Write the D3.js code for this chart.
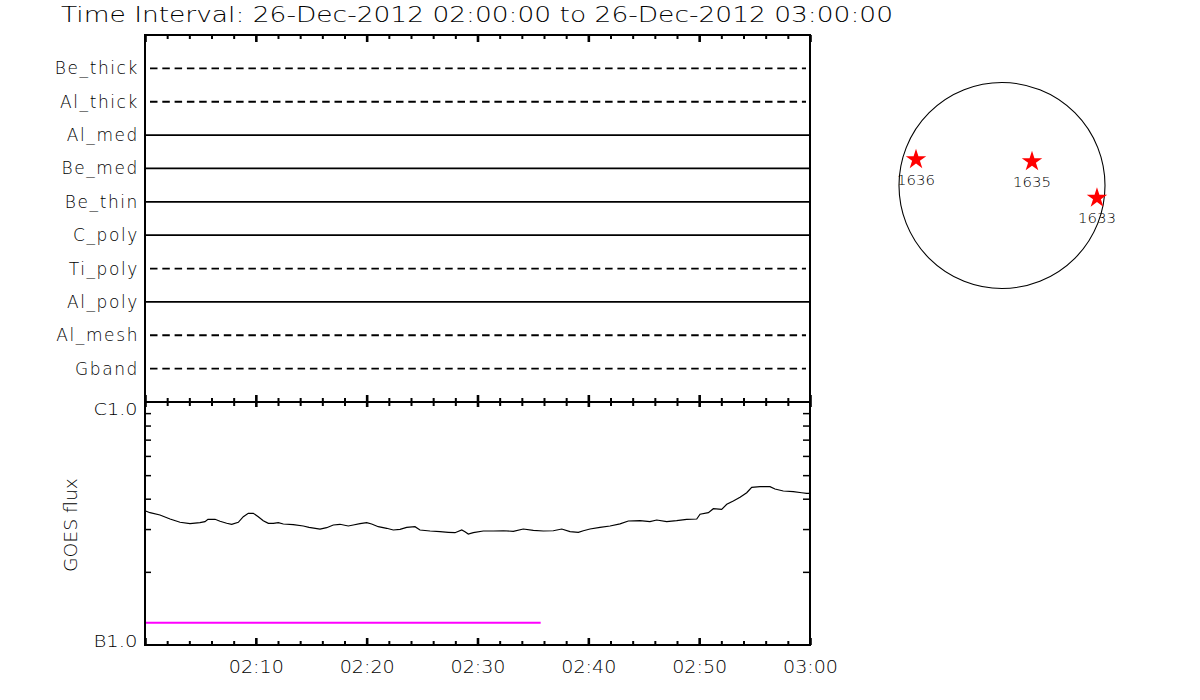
<!DOCTYPE html>
<html><head><meta charset="utf-8">
<script src="https://cdn.jsdelivr.net/npm/d3@7"></script>
<style>
body{margin:0;background:#fff}
text{font-family:"DejaVu Sans","Liberation Sans",sans-serif;font-weight:200;fill:#000}
</style>
</head><body>
<svg id="c" width="1200" height="700"></svg>
<script>
// ---------- data ----------
const titleText = "Time Interval: 26-Dec-2012 02:00:00 to 26-Dec-2012 03:00:00";
const channels = ["Be_thick","Al_thick","Al_med","Be_med","Be_thin","C_poly","Ti_poly","Al_poly","Al_mesh","Gband"];
const channelDashed = [true,true,false,false,false,false,true,false,true,true];
const timeTickLabels = ["02:10","02:20","02:30","02:40","02:50","03:00"];
const timeTickMinutes = [10,20,30,40,50,60];
const minorTickMinutes = [2,4,6,8,12,14,16,18,22,24,26,28,32,34,36,38,42,44,46,48,52,54,56,58];
const yTickLabels = ["B1.0","C1.0"];
const yTickValues = [1e-7,1e-6];
const yMinorValues = [2e-7,3e-7,4e-7,5e-7,6e-7,7e-7,8e-7,9e-7];
const goesMinutes = [0,0.45,1.35,2.26,3.16,4.06,4.96,5.41,5.68,6.32,6.77,7.37,7.82,8.42,8.87,9.32,9.77,10.22,10.67,11.13,11.58,12.03,12.48,13.38,14.28,14.8,15.79,16.39,16.99,17.59,18.34,18.79,19.40,20.00,20.45,21.05,21.81,22.40,23.01,23.61,24.36,24.81,25.72,26.62,27.37,27.97,28.58,28.87,29.17,29.62,30.52,31.43,32.33,33.23,34.13,35.04,35.94,36.84,37.60,38.35,39.10,39.55,40.15,41.05,41.96,42.86,43.61,44.66,45.56,46.17,47.07,47.97,48.88,49.78,50.08,50.83,51.28,52.03,52.49,53.08,53.69,54.29,54.74,55.49,56.39,56.84,57.59,58.50,59.25,59.70,60];
// GOES flux in units of 1e-7 W/m^2
const goesFluxB = [3.570,3.503,3.428,3.300,3.199,3.157,3.187,3.217,3.291,3.291,3.229,3.169,3.139,3.199,3.373,3.483,3.483,3.373,3.247,3.169,3.169,3.187,3.148,3.127,3.088,3.050,3.001,3.039,3.118,3.139,3.088,3.118,3.157,3.187,3.148,3.068,3.022,2.973,2.992,3.050,3.068,2.973,2.945,2.926,2.909,2.898,2.973,2.926,2.862,2.898,2.945,2.945,2.953,2.937,3.001,2.965,2.945,2.953,3.001,2.926,2.909,2.953,3.001,3.050,3.088,3.150,3.238,3.247,3.217,3.269,3.217,3.247,3.291,3.300,3.451,3.503,3.638,3.617,3.793,3.913,4.053,4.233,4.457,4.482,4.482,4.385,4.302,4.274,4.233,4.210,4.210];
const limitMinutes = [0,35.7];
const limitFluxB = [1.235,1.235];
const regions = ["1636","1635","1633"];
const regionXarc = [-814,284,899];
const regionYarc = [246,227,-118];

// ---------- layout ----------
const svg = d3.select("#c");
const L = 145, R = 810, T1 = 35, B1 = 402, B2 = 645;
const t0 = Date.UTC(2012,11,26,2,0,0);
const toDate = m => new Date(t0 + m*60000);
const x = d3.scaleUtc().domain([toDate(0), toDate(60)]).range([L, R]);
const yRow = d3.scalePoint().domain(channels).range([T1, B1]).padding(1);
const y = d3.scaleLog().domain([1e-7,1e-6]).range([B2, B1]);

svg.append("rect").attr("width",1200).attr("height",700).attr("fill","#fff");

// title
svg.append("text").attr("x",61).attr("y",22).attr("font-size",21)
  .attr("textLength",832).attr("lengthAdjust","spacingAndGlyphs").text(titleText);

// ---------- top panel rows ----------
const rows = svg.append("g");
channels.forEach((c,i)=>{
  const yy = yRow(c);
  const ln = rows.append("line").attr("x1",L).attr("x2",channelDashed[i]? R-4 : R)
    .attr("y1",yy).attr("y2",yy).attr("stroke","#000").attr("stroke-width",1.8);
  if(channelDashed[i]) ln.attr("stroke-dasharray","7.5,4.8").attr("stroke-dashoffset",7.3);
  rows.append("text").attr("x",139).attr("y",yy+6).attr("font-size",17)
    .attr("text-anchor","end").attr("letter-spacing",1.6).text(c);
});

// ---------- axes tick helpers ----------
function timeTicks(gen, ty, size, vals, sw){
  const g = svg.append("g").attr("transform",`translate(0,${ty})`)
    .call(gen(x).tickValues(vals.map(toDate)).tickSize(size).tickFormat(""));
  g.select(".domain").remove();
  g.selectAll("line").attr("stroke","#000").attr("stroke-width",sw);
}
timeTicks(d3.axisBottom, T1, 4, minorTickMinutes, 2);
timeTicks(d3.axisBottom, T1, 7, [0,...timeTickMinutes], 2.6);
timeTicks(d3.axisTop, B1, 4, minorTickMinutes, 2);
timeTicks(d3.axisTop, B1, 7, [0,...timeTickMinutes], 2.6);
timeTicks(d3.axisBottom, B1, 4, minorTickMinutes, 2);
timeTicks(d3.axisBottom, B1, 5, [0,...timeTickMinutes], 2.6);
timeTicks(d3.axisTop, B2, 4, minorTickMinutes, 2);
timeTicks(d3.axisTop, B2, 7, [0,...timeTickMinutes], 2.6);

// x labels
const xl = svg.append("g").attr("transform",`translate(0,${B2})`)
  .call(d3.axisBottom(x).tickValues(timeTickMinutes.map(toDate)).tickSize(0).tickPadding(0)
        .tickFormat((d,i)=>timeTickLabels[i]));
xl.select(".domain").remove();
xl.selectAll("text").attr("y",28).attr("dy",null).attr("font-size",18)
  .attr("textLength",55).attr("lengthAdjust","spacingAndGlyphs")
  .style("font-family",'"DejaVu Sans",sans-serif').style("font-weight",200);

// y minor ticks lower panel
const yl = svg.append("g").attr("transform",`translate(${L},0)`)
  .call(d3.axisRight(y).tickValues(yMinorValues).tickSize(6).tickFormat(""));
yl.select(".domain").remove();
yl.selectAll("line").attr("stroke","#000").attr("stroke-width",1.5);
const yr = svg.append("g").attr("transform",`translate(${R},0)`)
  .call(d3.axisLeft(y).tickValues(yMinorValues).tickSize(7).tickFormat(""));
yr.select(".domain").remove();
yr.selectAll("line").attr("stroke","#000").attr("stroke-width",1.5);

// y labels
yTickValues.forEach((v,i)=>{
  svg.append("text").attr("x",137.5).attr("y", y(v) + (i===0 ? 2 : 13))
    .attr("font-size",16.5).attr("text-anchor","end")
    .attr("textLength",44).attr("lengthAdjust","spacingAndGlyphs").text(yTickLabels[i]);
});
svg.append("text").attr("transform",`translate(77,525) rotate(-90)`)
  .attr("font-size",18).attr("text-anchor","middle")
  .attr("textLength",94).attr("lengthAdjust","spacingAndGlyphs").text("GOES flux");

// ---------- curves ----------
const goes = goesMinutes.map((m,i)=>({t:toDate(m), f:goesFluxB[i]*1e-7}));
svg.append("path").datum(goes)
  .attr("d", d3.line().x(d=>x(d.t)).y(d=>y(d.f)))
  .attr("fill","none").attr("stroke","#000").attr("stroke-width",1.2);
const lim = limitMinutes.map((m,i)=>({t:toDate(m), f:limitFluxB[i]*1e-7}));
svg.append("path").datum(lim)
  .attr("d", d3.line().x(d=>x(d.t)).y(d=>y(d.f)))
  .attr("fill","none").attr("stroke","#ff00ff").attr("stroke-width",2);

// ---------- frames ----------
svg.append("rect").attr("x",L).attr("y",T1).attr("width",R-L).attr("height",B1-T1)
  .attr("fill","none").attr("stroke","#000").attr("stroke-width",2);
svg.append("rect").attr("x",L).attr("y",B1).attr("width",R-L).attr("height",B2-B1)
  .attr("fill","none").attr("stroke","#000").attr("stroke-width",2);

// ---------- solar disk ----------
const cx = 1002, cy = 185.5, rad = 103;
const sx = d3.scaleLinear().domain([-975,975]).range([cx-rad, cx+rad]);
const sy = d3.scaleLinear().domain([-975,975]).range([cy+rad, cy-rad]);
svg.append("circle").attr("cx",sx(0)).attr("cy",sy(0)).attr("r",sx(975)-sx(0))
  .attr("fill","none").attr("stroke","#000").attr("stroke-width",1.1);
const star = d3.symbol(d3.symbolStar, 130);
regions.forEach((r,i)=>{
  const px = sx(regionXarc[i]), py = sy(regionYarc[i]);
  svg.append("path").attr("d",star()).attr("transform",`translate(${px},${py})`).attr("fill","#ff0000");
  svg.append("text").attr("x",px).attr("y",py+25).attr("font-size",14)
    .attr("text-anchor","middle").attr("textLength",38).attr("lengthAdjust","spacingAndGlyphs").text(r);
});
</script>
</body></html>
